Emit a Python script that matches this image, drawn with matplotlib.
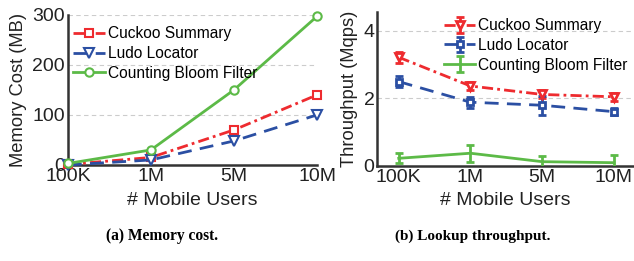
import numpy as np
import matplotlib.pyplot as plt

plt.rcParams['font.family'] = ['Liberation Sans', 'DejaVu Sans']

users = ['100K', '1M', '5M', '10M']

# memory cost (MB)
mem_cuckoo = [1, 15, 70, 140]
mem_ludo = [0, 10, 48, 100]
mem_cbf = [3, 30, 150, 297]

# lookup throughput (Mqps) and error
tp_cuckoo = [3.21, 2.36, 2.11, 2.04]
tp_cuckoo_err = [0.17, 0.12, 0.12, 0.12]
tp_ludo = [2.49, 1.88, 1.79, 1.60]
tp_ludo_err = [0.17, 0.16, 0.28, 0.10]
tp_cbf = [0.22, 0.37, 0.12, 0.09]
tp_cbf_err = [0.15, 0.25, 0.18, 0.24]

red = '#ee2b2f'
blue = '#2b4fa3'
green = '#5cba47'
spine = '#333333'

fig = plt.figure(figsize=(6.34, 2.61), dpi=100)
ax1 = fig.add_axes([0.107, 0.368, 0.393, 0.575])
ax2 = fig.add_axes([0.595, 0.365, 0.405, 0.589])

x = np.arange(len(users))

# (a) memory cost
ax1.plot(x, mem_cuckoo, color=red, ls=(0, (4, 1.5, 1, 1.5)), lw=2, marker='s', ms=6,
         mfc='white', mew=1.5, label='Cuckoo Summary', clip_on=False, zorder=3)
ax1.plot(x, mem_ludo, color=blue, ls=(0, (5, 3)), lw=2, marker='v', ms=7,
         mfc='white', mew=1.5, label='Ludo Locator', clip_on=False, zorder=3)
ax1.plot(x, mem_cbf, color=green, ls='-', lw=2, marker='o', ms=6,
         mfc='white', mew=1.5, label='Counting Bloom Filter', clip_on=False, zorder=3)
ax1.set_xlim(0, 3)
ax1.set_ylim(0, 300)
ax1.set_yticks([0, 100, 200, 300])
ax1.set_ylabel('Memory Cost (MB)', fontsize=13.2, color='#222222', labelpad=4)
ax1.legend(loc='upper left', frameon=False, fontsize=11.2, handlelength=2.0,
           handletextpad=0.2, labelspacing=0.3, borderaxespad=0.2,
           bbox_to_anchor=(-0.015, 0.985))

# (b) lookup throughput
ax2.errorbar(x, tp_cuckoo, yerr=tp_cuckoo_err, color=red, ls=(0, (4, 1.5, 1, 1.5)), lw=2,
             marker='v', ms=6, mfc='white', mew=2, capsize=3, elinewidth=2, capthick=2,
             label='Cuckoo Summary', zorder=3)
ax2.errorbar(x, tp_ludo, yerr=tp_ludo_err, color=blue, ls=(0, (5, 3)), lw=2,
             marker='s', ms=5, mfc='white', mew=2, capsize=3, elinewidth=2, capthick=2,
             label='Ludo Locator', zorder=3)
ax2.errorbar(x, tp_cbf, yerr=tp_cbf_err, color=green, ls='-', lw=2,
             capsize=3, elinewidth=2, capthick=2, label='Counting Bloom Filter', zorder=3)
ax2.set_xlim(-0.3, 3.28)
ax2.set_ylim(0, 4.55)
ax2.set_yticks([0, 2, 4])
ax2.set_ylabel('Throughput (Mqps)', fontsize=13.2, color='#222222', labelpad=4)
ax2.legend(loc='upper right', frameon=False, fontsize=11.2, handlelength=2.0,
           handletextpad=0.2, labelspacing=0.3, borderaxespad=0.0,
           bbox_to_anchor=(1.0, 1.0))

for ax in (ax1, ax2):
    ax.set_xticks(x)
    ax.set_xticklabels(users)
    ax.set_xlabel('# Mobile Users', fontsize=14, color='#222222', labelpad=5)
    ax.tick_params(labelsize=14, length=0, pad=2, colors='#222222')
    ax.spines['top'].set_visible(False)
    ax.spines['right'].set_visible(False)
    for s in ('left', 'bottom'):
        ax.spines[s].set_color(spine)
        ax.spines[s].set_linewidth(1.8)
    ax.yaxis.grid(True, ls=(0, (4, 3)), color='#cccccc', lw=0.8)
    ax.set_axisbelow(True)

fig.text(0.255, 0.095, '(a) Memory cost.', ha='center', va='center', fontsize=11.2,
         fontweight='bold', family=['Liberation Serif', 'DejaVu Serif'])
fig.text(0.745, 0.095, '(b) Lookup throughput.', ha='center', va='center', fontsize=11,
         fontweight='bold', family=['Liberation Serif', 'DejaVu Serif'])

fig.savefig('out.png', dpi=100)
